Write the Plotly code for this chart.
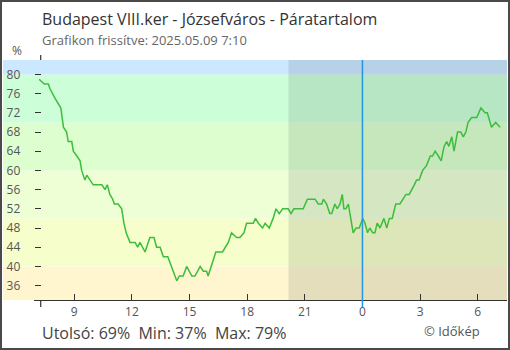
import datetime as dt
import plotly.graph_objects as go

# Relative humidity readings (%), clock time of each reading, 2025-05-08 -> 2025-05-09
times = [
    "07:10", "07:26", "07:39", "07:44", "08:00", "08:18", "08:24", "08:26", "08:36", "08:41",
    "08:52", "08:57", "09:08", "09:18", "09:23", "09:33", "09:39", "09:49", "09:59", "10:26",
    "10:36", "10:43", "10:51", "11:00", "11:05", "11:17", "11:28", "11:35", "11:42", "11:54",
    "12:10", "12:18", "12:25", "12:41", "12:56", "13:09", "13:17", "13:28", "13:38", "13:52",
    "14:04", "14:20", "14:28", "14:40", "14:51", "15:07", "15:17", "15:33", "15:43", "15:53",
    "15:58", "16:12", "16:22", "16:43", "17:01", "17:11", "17:27", "17:37", "17:50", "17:58",
    "18:19", "18:26", "18:35", "18:48", "18:56", "19:09", "19:21", "19:30", "19:40", "19:51",
    "20:08", "20:17", "20:26", "20:55", "21:08", "21:32", "21:42", "21:53", "21:58", "22:08",
    "22:18", "22:24", "22:34", "22:41", "22:50", "22:57", "23:02", "23:08", "23:16", "23:21",
    "23:26", "23:31", "23:40", "23:50", "00:01", "00:08", "00:16", "00:23", "00:32", "00:39",
    "00:46", "00:55", "01:07", "01:16", "01:24", "01:33", "01:44", "01:57", "02:16", "02:26",
    "02:42", "02:49", "02:57", "03:08", "03:20", "03:32", "03:39", "03:47", "03:57", "04:06",
    "04:15", "04:23", "04:30", "04:39", "04:46", "04:51", "04:57", "05:07", "05:15", "05:23",
    "05:30", "05:41", "05:57", "06:10", "06:23", "06:30", "06:43", "06:56", "07:10",
]
humidity = [
    79, 78, 78, 77, 75, 73, 70, 69, 68, 66,
    66, 64, 63, 62, 60, 58, 59, 58, 57, 57,
    56, 57, 55, 54, 53, 53, 52, 49, 47, 45,
    45, 44, 45, 43, 46, 46, 44, 44, 42, 42,
    40, 37, 38, 38, 40, 38, 38, 40, 39, 39,
    38, 41, 43, 43, 45, 47, 46, 46, 47, 49,
    49, 50, 49, 48, 49, 48, 50, 52, 51, 52,
    52, 51, 52, 52, 54, 54, 53, 53, 54, 53,
    51, 51, 53, 52, 53, 55, 52, 52, 53, 51,
    49, 47, 48, 48, 50, 49, 47, 48, 47, 47,
    49, 48, 50, 48, 50, 50, 53, 53, 55, 55,
    57, 58, 58, 60, 61, 63, 63, 64, 63, 62,
    65, 66, 65, 67, 64, 66, 68, 68, 67, 68,
    70, 71, 71, 73, 72, 72, 69, 70, 69,
]

y_tick_values = [36, 40, 44, 48, 52, 56, 60, 64, 68, 72, 76, 80]
x_tick_times = ["2025-05-08 09:00", "2025-05-08 12:00", "2025-05-08 15:00", "2025-05-08 18:00",
                "2025-05-08 21:00", "2025-05-09 00:00", "2025-05-09 03:00", "2025-05-09 06:00"]
x_tick_labels = ["9", "12", "15", "18", "21", "0", "3", "6"]

title_text = "Budapest VIII.ker - Józsefváros - Páratartalom"
updated_text = "Grafikon frissítve: 2025.05.09 7:10"

# build timestamps, rolling over to the next day after midnight
day = dt.date(2025, 5, 8)
stamps = []
prev = None
for t in times:
    hh, mm = map(int, t.split(":"))
    if prev is not None and (hh, mm) < prev:
        day = day + dt.timedelta(days=1)
    prev = (hh, mm)
    stamps.append(dt.datetime(day.year, day.month, day.day, hh, mm))

# ---- styling / layout constants ----
FONT = "Open Sans"
W, H = 510, 350
ML, MR, MT, MB = 34, 3, 60, 50
PW, PH = W - ML - MR, H - MT - MB
Y_RANGE = [33, 83]
X_RANGE = ["2025-05-08 06:54:07", "2025-05-09 07:31:30"]
NIGHT_START = "2025-05-08 20:09"
MIDNIGHT = "2025-05-09 00:00"
LEFT_EDGE_PX = 3


def px_x(p):
    return (p - ML) / PW


def px_y(p):
    return (H - MB - p) / PH


def val_y(v):
    return (v - Y_RANGE[0]) / (Y_RANGE[1] - Y_RANGE[0])


bands = [
    (Y_RANGE[0], 40, "#fff6d0"),
    (40, 50, "#f6ffcc"),
    (50, 60, "#eeffd6"),
    (60, 70, "#ddffcf"),
    (70, 80, "#ccffd8"),
    (80, Y_RANGE[1], "#cce8ff"),
]

shapes = []
for lo, hi, col in bands:
    shapes.append(dict(type="rect", xref="paper", yref="paper",
                       x0=px_x(LEFT_EDGE_PX), x1=1, y0=val_y(lo), y1=val_y(hi),
                       fillcolor=col, line=dict(width=0), layer="below"))
# evening / night shading
shapes.append(dict(type="rect", xref="x", yref="paper", x0=NIGHT_START, x1=X_RANGE[1],
                   y0=0, y1=1, fillcolor="rgba(20,25,35,0.11)", line=dict(width=0),
                   layer="below"))
# midnight marker
shapes.append(dict(type="line", xref="x", yref="paper", x0=MIDNIGHT, x1=MIDNIGHT,
                   y0=px_y(307), y1=1, line=dict(color="#2196e3", width=1.5),
                   layer="above"))
# small end marks of the vertical axis
axis_x = px_x(40.7)
shapes.append(dict(type="line", xref="paper", yref="paper", x0=axis_x, x1=axis_x,
                   y0=0, y1=px_y(307), line=dict(color="#333", width=1.2)))
shapes.append(dict(type="line", xref="paper", yref="paper", x0=axis_x, x1=axis_x,
                   y0=1, y1=px_y(55), line=dict(color="#333", width=1.2)))
# outer frame
shapes.append(dict(type="rect", xref="paper", yref="paper",
                   x0=px_x(0), x1=px_x(W), y0=px_y(H), y1=px_y(0),
                   line=dict(color="#4a4a4a", width=4), fillcolor="rgba(0,0,0,0)"))

last_v, min_v, max_v = humidity[-1], min(humidity), max(humidity)
stats_text = f"Utolsó: {last_v}%  Min: {min_v}%  Max: {max_v}%"

annotations = [
    dict(text=title_text, x=px_x(40), y=px_y(19), xanchor="left", yanchor="middle",
         font=dict(family=FONT, size=16, color="#333")),
    dict(text=updated_text, x=px_x(40), y=px_y(40), xanchor="left", yanchor="middle",
         font=dict(family=FONT, size=13, color="#666")),
    dict(text="%", x=px_x(17), y=px_y(51), xanchor="center", yanchor="middle",
         font=dict(family=FONT, size=12, color="#555")),
    dict(text=stats_text, x=px_x(40), y=px_y(333), xanchor="left", yanchor="middle",
         font=dict(family=FONT, size=16, color="#444")),
    dict(text="© Időkép", x=px_x(482), y=px_y(331), xanchor="right", yanchor="middle",
         font=dict(family=FONT, size=13, color="#555")),
]
for a in annotations:
    a.update(xref="paper", yref="paper", showarrow=False)

fig = go.Figure()
fig.add_trace(go.Scatter(x=stamps, y=humidity, mode="lines",
                         line=dict(color="#3cbd3c", width=1.5), hoverinfo="skip",
                         showlegend=False))

fig.update_layout(
    width=W, height=H,
    margin=dict(l=ML, r=MR, t=MT, b=MB),
    paper_bgcolor="white", plot_bgcolor="rgba(0,0,0,0)",
    font=dict(family=FONT, color="#555"),
    xaxis=dict(type="date", range=X_RANGE, tickvals=x_tick_times, ticktext=x_tick_labels,
               ticks="inside", ticklen=6, tickwidth=1.2, tickcolor="#333",
               showline=True, linecolor="#333", linewidth=1.2,
               showgrid=False, zeroline=False, fixedrange=True,
               tickfont=dict(family=FONT, size=12, color="#555")),
    yaxis=dict(range=Y_RANGE, tickvals=y_tick_values, anchor="free", position=axis_x,
               ticks="outside", ticklen=6, tickwidth=1.2, tickcolor="#333",
               ticklabelstandoff=12, showline=False, showgrid=False, zeroline=False,
               tickfont=dict(family=FONT, size=12, color="#555")),
    yaxis2=dict(range=Y_RANGE, tickvals=y_tick_values, anchor="free", position=axis_x,
                overlaying="y", ticks="inside", ticklen=6, tickwidth=1.2,
                tickcolor="#333", showticklabels=False, showline=False, showgrid=False,
                zeroline=False),
    shapes=shapes,
    annotations=annotations,
)

fig.write_html("out.html")
